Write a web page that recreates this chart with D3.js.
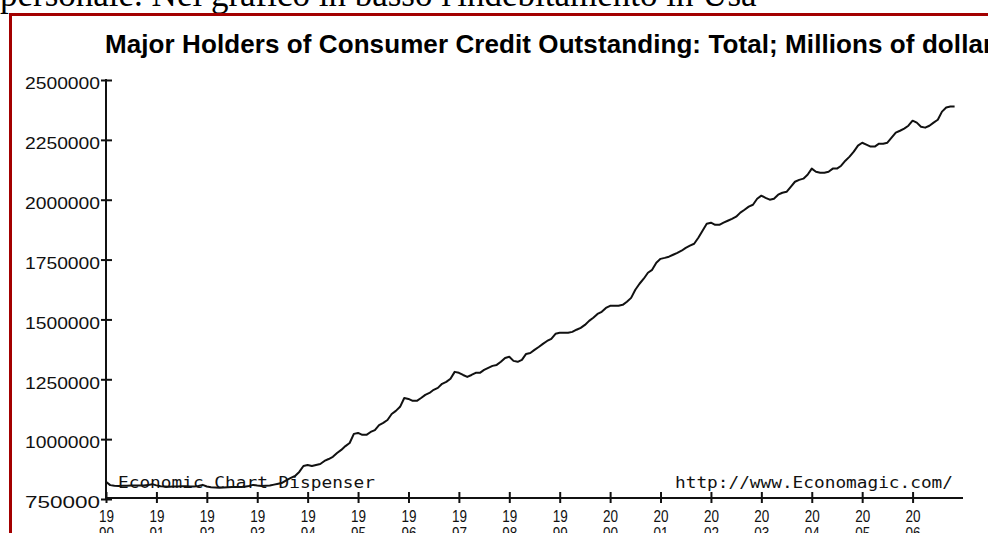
<!DOCTYPE html>
<html><head><meta charset="utf-8">
<script src="https://cdn.jsdelivr.net/npm/d3@7"></script>
<style>
html,body{margin:0;padding:0;background:#fff;overflow:hidden}
svg{display:block}
</style></head><body>
<svg id="c" width="988" height="533"></svg>
<script>
// ---- text ----
const pageText = "personale. Nel grafico in basso l'indebitamento in Usa";
const chartTitle = "Major Holders of Consumer Credit Outstanding: Total; Millions of dollars";
const leftCredit = "Economic Chart Dispenser";
const rightCredit = "http://www.Economagic.com/";

// ---- ticks ----
const yTickValues = [750000, 1000000, 1250000, 1500000, 1750000, 2000000, 2250000, 2500000];
const xTickYears = [1990, 1991, 1992, 1993, 1994, 1995, 1996, 1997, 1998, 1999, 2000, 2001, 2002, 2003, 2004, 2005, 2006];

// ---- monthly series (millions of dollars), Jan..Dec ----
const startYear = 1990;
const credit1990 = [822000, 808000, 805000, 804000, 805000, 805000, 806000, 806000, 806000, 806000, 808000, 812000];
const credit1991 = [807000, 803000, 802000, 801000, 802000, 802000, 803000, 803000, 802000, 802000, 804000, 809000];
const credit1992 = [802000, 799000, 798000, 797000, 798000, 799000, 800000, 800000, 800000, 801000, 804000, 809000];
const credit1993 = [806000, 804000, 805000, 806000, 810000, 814000, 818000, 829000, 838000, 846000, 863000, 888000];
const credit1994 = [892000, 888000, 892000, 896000, 909000, 917000, 926000, 942000, 955000, 971000, 984000, 1022000];
const credit1995 = [1026000, 1018000, 1018000, 1030000, 1038000, 1059000, 1068000, 1080000, 1105000, 1118000, 1135000, 1172000];
const credit1996 = [1168000, 1160000, 1160000, 1172000, 1185000, 1193000, 1206000, 1214000, 1231000, 1239000, 1252000, 1281000];
const credit1997 = [1277000, 1268000, 1260000, 1268000, 1277000, 1277000, 1289000, 1298000, 1306000, 1310000, 1323000, 1339000];
const credit1998 = [1344000, 1327000, 1323000, 1331000, 1356000, 1360000, 1373000, 1385000, 1398000, 1410000, 1419000, 1440000];
const credit1999 = [1444000, 1444000, 1444000, 1448000, 1457000, 1465000, 1477000, 1494000, 1507000, 1523000, 1532000, 1548000];
const credit2000 = [1557000, 1557000, 1557000, 1561000, 1574000, 1590000, 1624000, 1649000, 1670000, 1695000, 1707000, 1737000];
const credit2001 = [1753000, 1757000, 1762000, 1770000, 1778000, 1787000, 1799000, 1808000, 1816000, 1841000, 1870000, 1900000];
const credit2002 = [1904000, 1895000, 1895000, 1904000, 1912000, 1920000, 1929000, 1946000, 1958000, 1971000, 1979000, 2004000];
const credit2003 = [2017000, 2008000, 2000000, 2004000, 2021000, 2029000, 2033000, 2054000, 2075000, 2083000, 2088000, 2104000];
const credit2004 = [2130000, 2117000, 2113000, 2113000, 2117000, 2130000, 2130000, 2142000, 2163000, 2180000, 2201000, 2226000];
const credit2005 = [2238000, 2230000, 2222000, 2222000, 2234000, 2234000, 2238000, 2259000, 2280000, 2288000, 2297000, 2309000];
const credit2006 = [2330000, 2322000, 2305000, 2301000, 2309000, 2322000, 2334000, 2368000, 2385000, 2389000, 2389000];

const yearly = [credit1990, credit1991, credit1992, credit1993, credit1994, credit1995, credit1996, credit1997, credit1998,
  credit1999, credit2000, credit2001, credit2002, credit2003, credit2004, credit2005, credit2006];
const series = [];
yearly.forEach((arr, yi) => arr.forEach((v, m) => series.push({t: startYear + yi + m / 12, v})));

// ---- layout ----
const svg = d3.select("#c");
const ink = "#111";
const red = "#a30000";

// top page text (cropped by the window edge)
svg.append("text").attr("x", 0).attr("y", 6)
  .attr("font-family", "'Liberation Serif','Times New Roman',serif").attr("font-size", 35)
  .attr("fill", "#000").text(pageText);

// red frame
svg.append("rect").attr("x", 10.5).attr("y", 14.5).attr("width", 1000).attr("height", 600)
  .attr("fill", "#fff").attr("stroke", red).attr("stroke-width", 3);

const x = d3.scaleLinear().domain([1990, 2007]).range([106, 963]);
const y = d3.scaleLinear().domain([750000, 2500000]).range([499, 80]);

// title
const title = svg.append("text").attr("x", 105).attr("y", 53)
  .attr("font-family", "'Liberation Sans',Arial,sans-serif").attr("font-weight", "bold")
  .attr("font-size", 26).attr("fill", "#000").text(chartTitle);
const nPrefix = chartTitle.indexOf("dollars") + 5;
const wPrefix = title.node().getSubStringLength(0, nPrefix);
title.attr("letter-spacing", ((878 - wPrefix) / nPrefix).toFixed(3));

// y axis
const yAxis = d3.axisLeft(y).tickValues(yTickValues).tickSize(0).tickPadding(6)
  .tickFormat(d3.format("d"));
const gy = svg.append("g").attr("transform", `translate(${x(1990)},0)`).call(yAxis);
gy.select(".domain").remove();
gy.selectAll("text").attr("font-family", "'Liberation Sans',Arial,sans-serif")
  .attr("font-size", 16).attr("fill", ink).attr("dy", "0.55em")
  .attr("textLength", 75).attr("lengthAdjust", "spacingAndGlyphs");
gy.selectAll(".tick").append("line").attr("x1", -5).attr("x2", 6)
  .attr("stroke", ink).attr("stroke-width", 2);
svg.append("line").attr("x1", x(1990)).attr("x2", x(1990)).attr("y1", y(2500000) - 1).attr("y2", y(750000))
  .attr("stroke", ink).attr("stroke-width", 2);

// x axis
const xAxis = d3.axisBottom(x).tickValues(xTickYears).tickSize(0).tickFormat(() => "");
const gx = svg.append("g").attr("transform", `translate(0,${y(750000) - 1})`).call(xAxis);
gx.select(".domain").remove();
gx.selectAll(".tick").append("line").attr("y1", -6).attr("y2", 5)
  .attr("stroke", ink).attr("stroke-width", 2);
gx.selectAll(".tick").each(function(d) {
  const s = String(d);
  const t = d3.select(this);
  [s.slice(0, 2), s.slice(2)].forEach((part, i) => {
    t.append("text").attr("x", 0).attr("y", 24 + i * 17).attr("text-anchor", "middle")
      .attr("font-family", "'Liberation Sans',Arial,sans-serif").attr("font-size", 16)
      .attr("fill", ink).attr("textLength", 15).attr("lengthAdjust", "spacingAndGlyphs").text(part);
  });
});
svg.append("line").attr("x1", x(1990)).attr("x2", x(2007)).attr("y1", y(750000) - 1).attr("y2", y(750000) - 1)
  .attr("stroke", ink).attr("stroke-width", 2);

// credits
svg.append("text").attr("x", 118).attr("y", 488)
  .attr("font-family", "'DejaVu Sans Mono','Liberation Mono',monospace").attr("font-size", 15)
  .attr("fill", ink).attr("textLength", 257).attr("lengthAdjust", "spacingAndGlyphs").text(leftCredit);
svg.append("text").attr("x", 675).attr("y", 488)
  .attr("font-family", "'DejaVu Sans Mono','Liberation Mono',monospace").attr("font-size", 15)
  .attr("fill", ink).attr("textLength", 278).attr("lengthAdjust", "spacingAndGlyphs").text(rightCredit);

// series line
const line = d3.line().x(d => x(d.t)).y(d => y(d.v));
svg.append("path").datum(series).attr("d", line)
  .attr("fill", "none").attr("stroke", ink).attr("stroke-width", 2).attr("stroke-linejoin", "round");
</script>
</body></html>
